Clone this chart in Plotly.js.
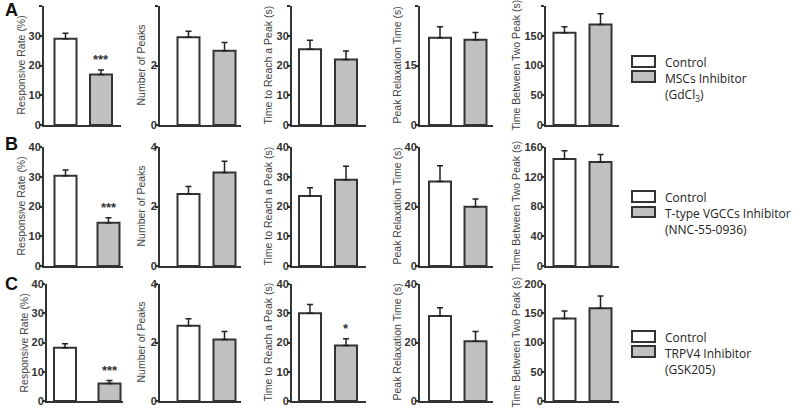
<!DOCTYPE html>
<html><head><meta charset="utf-8">
<script src="https://cdn.plot.ly/plotly-3.0.1.min.js"></script>
<style>body{margin:0;padding:0;background:#fff}#chart{width:800px;height:408px}</style>
</head><body><div id="chart"></div>
<script>
// ---------- data ----------
const rowLetters = ['A', 'B', 'C'];
const panelTitles = ['Responsive Rate (%)', 'Number of Peaks', 'Time to Reach a Peak (s)', 'Peak Relaxation Time (s)', 'Time Between Two Peak (s)'];
const groups = ['Control', 'Inhibitor'];

const controlMeanA = [29.0, 2.95, 25.5, 22.0, 155];
const controlErrA  = [1.8, 0.20, 3.0, 2.8, 10];
const inhibMeanA   = [17.0, 2.50, 22.0, 21.5, 169];
const inhibErrA    = [1.5, 0.27, 2.9, 1.8, 18];
const sigA = ['***', '', '', '', ''];

const controlMeanB = [30.3, 2.42, 23.5, 28.4, 144];
const controlErrB  = [2.0, 0.25, 2.8, 5.3, 11];
const inhibMeanB   = [14.5, 3.14, 29.0, 19.9, 140];
const inhibErrB    = [1.7, 0.38, 4.5, 2.6, 10];
const sigB = ['***', '', '', '', ''];

const controlMeanC = [18.2, 2.57, 30.0, 29.1, 141];
const controlErrC  = [1.4, 0.24, 3.0, 2.8, 13];
const inhibMeanC   = [6.0, 2.10, 19.0, 20.4, 158.6];
const inhibErrC    = [1.0, 0.28, 2.3, 3.4, 21];
const sigC = ['***', '', '*', '', ''];

const yMaxA = [40, 4, 40, 30, 200];
const yStepA = [10, 2, 10, 15, 50];
const yMaxB = [40, 4, 40, 40, 160];
const yStepB = [10, 2, 10, 20, 40];
const yMaxC = [40, 4, 40, 40, 200];
const yStepC = [10, 2, 10, 20, 50];

const legendA = ['Control', 'MSCs Inhibitor', '(GdCl<sub>3</sub>)'];
const legendB = ['Control', 'T-type VGCCs Inhibitor', '(NNC-55-0936)'];
const legendC = ['Control', 'TRPV4 Inhibitor', '(GSK205)'];

// ---------- layout geometry (pixels) ----------
const W = 800, H = 408;
const rowsY = [[6, 125], [147, 266], [284, 401]];
// per panel: [axisLeft, center0, center1, axisRight]
const colGeom = [
  [[44, 65.5, 101, 121], [44, 65.5, 108.5, 123], [47, 65, 109.5, 123]],
  [[160, 188.5, 224.5, 241]], [[292, 310, 346, 366]], [[420, 440, 475.5, 493]], [[546, 564.5, 600.5, 619]]
];
const titleRightOffset = [16, 12, 17, 16, 23];
const barPx = 22;
const legendRects = [[[632, 56, 655, 67], [632, 71, 655, 82]], [[632, 191, 655, 202], [632, 207, 655, 217]], [[632, 331, 655, 342], [632, 346, 655, 357]]];
const legendTextY = [[62, 78, 95], [197, 213, 229], [337, 353, 369]];
const letterY = [10, 144, 284];

const rows = [
  {cm: controlMeanA, ce: controlErrA, im: inhibMeanA, ie: inhibErrA, sig: sigA, ymax: yMaxA, ystep: yStepA, leg: legendA},
  {cm: controlMeanB, ce: controlErrB, im: inhibMeanB, ie: inhibErrB, sig: sigB, ymax: yMaxB, ystep: yStepB, leg: legendB},
  {cm: controlMeanC, ce: controlErrC, im: inhibMeanC, ie: inhibErrC, sig: sigC, ymax: yMaxC, ystep: yStepC, leg: legendC}
];

const ink = '#333333';
const grayFill = '#c0c0c0';
const font = 'Arial, "Liberation Sans", sans-serif';

const traces = [];
const layout = {
  width: W, height: H, margin: {l: 0, r: 0, t: 0, b: 0},
  paper_bgcolor: '#fff', plot_bgcolor: 'rgba(0,0,0,0)',
  showlegend: false, bargap: 0,
  font: {family: font, color: ink},
  annotations: [], shapes: []
};

rows.forEach((row, r) => {
  for (let p = 0; p < 5; p++) {
    const k = r * 5 + p + 1;
    const g = colGeom[p][Math.min(r, colGeom[p].length - 1)];
    const u = g[2] - g[1];
    const r0 = -(g[1] - g[0]) / u, r1 = 1 + (g[3] - g[2]) / u;
    const xa = 'xaxis' + (k === 1 ? '' : k), ya = 'yaxis' + (k === 1 ? '' : k);
    const xr = 'x' + (k === 1 ? '' : k), yr = 'y' + (k === 1 ? '' : k);
    traces.push({
      type: 'bar', x: groups, y: [row.cm[p], row.im[p]], xaxis: xr, yaxis: yr,
      width: barPx / u,
      marker: {color: ['#ffffff', grayFill], line: {color: ink, width: 2}},
      error_y: {type: 'data', symmetric: false, array: [row.ce[p], row.ie[p]], arrayminus: [0, 0],
                color: '#222', thickness: 1.5, width: 3},
      hoverinfo: 'none'
    });
    const [top, bot] = rowsY[r];
    layout[xa] = {domain: [g[0] / W, g[3] / W], range: [r0, r1], type: 'category',
      showticklabels: false, ticks: '', showline: true, linecolor: ink, linewidth: 2,
      showgrid: false, zeroline: false, anchor: yr, fixedrange: true};
    const tv = [];
    for (let v = 0; v <= row.ymax[p] + 1e-9; v += row.ystep[p]) tv.push(v);
    layout[ya] = {domain: [1 - bot / H, 1 - top / H], range: [0, row.ymax[p]], tickvals: tv,
      ticks: 'outside', ticklen: 3, tickwidth: 2, tickcolor: ink, ticklabelstandoff: -4,
      showline: true, linecolor: ink, linewidth: 2, showgrid: false, zeroline: false,
      tickfont: {family: font, size: 11, color: ink, weight: 'bold'},
      anchor: xr, fixedrange: true, automargin: false};
    // axis title placed as rotated annotation next to the axis
    layout.annotations.push({xref: 'paper', yref: 'paper', x: (g[0] - titleRightOffset[p]) / W, y: 1 - (top + bot) / 2 / H,
      text: panelTitles[p], textangle: -90, showarrow: false, xanchor: 'right', yanchor: 'middle',
      font: {family: font, size: 10.5, color: '#444'}});
    if (row.sig[p]) {
      layout.annotations.push({xref: xr, yref: yr, x: 1, y: row.im[p] + row.ie[p], text: row.sig[p],
        showarrow: false, yanchor: 'bottom', yshift: 1, font: {family: font, size: 13, color: ink, weight: 'bold'}});
    }
  }
  // panel letter
  layout.annotations.push({xref: 'paper', yref: 'paper', x: 3 / W, y: 1 - letterY[r] / H, text: '<b>' + rowLetters[r] + '</b>',
    showarrow: false, xanchor: 'left', yanchor: 'middle', font: {family: font, size: 18, color: '#111'}});
  // legend boxes
  legendRects[r].forEach((rc, i) => {
    layout.shapes.push({type: 'rect', xref: 'paper', yref: 'paper', x0: rc[0] / W, x1: rc[2] / W,
      y0: 1 - rc[3] / H, y1: 1 - rc[1] / H, fillcolor: i === 0 ? '#ffffff' : grayFill, line: {color: ink, width: 2}});
  });
  row.leg.forEach((t, i) => {
    layout.annotations.push({xref: 'paper', yref: 'paper', x: 663 / W, y: 1 - legendTextY[r][i] / H, text: t,
      showarrow: false, xanchor: 'left', yanchor: 'middle', font: {family: '"Open Sans", Lato, sans-serif', size: 12, color: '#222'}});
  });
});

Plotly.newPlot('chart', traces, layout, {staticPlot: true});
</script></body></html>
